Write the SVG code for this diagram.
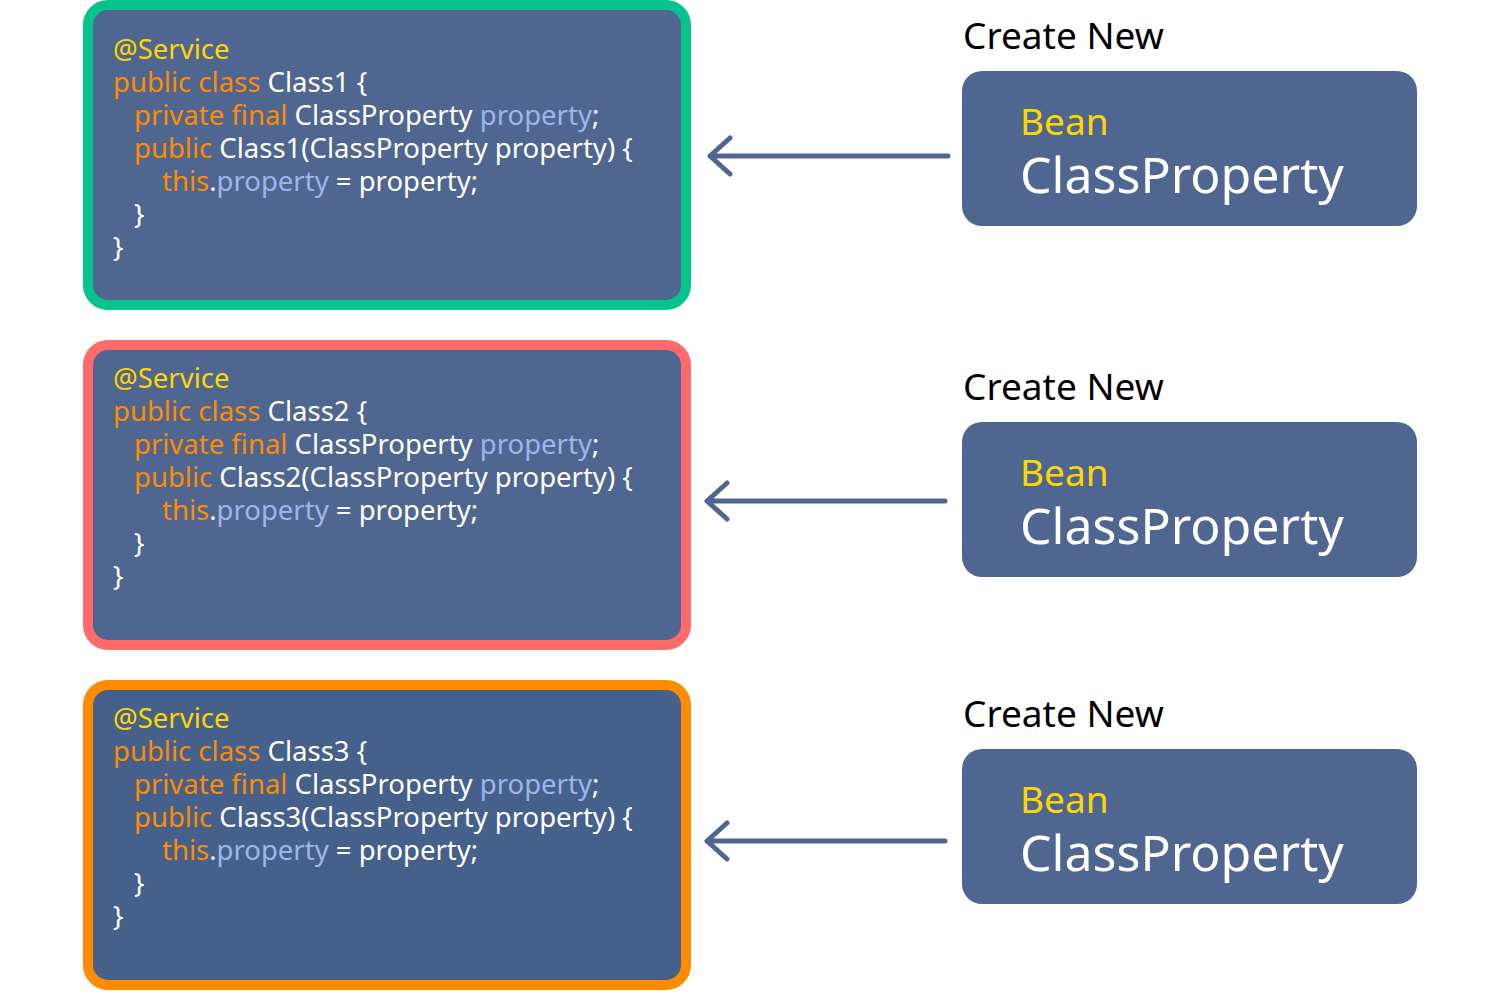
<svg xmlns="http://www.w3.org/2000/svg" width="1500" height="1000" viewBox="0 0 1500 1000">
<style>
text{font-family:"Noto Sans","Open Sans",sans-serif}
.code{font-size:27.5px;fill:#fff}
.k{fill:#ff8c00}.a{fill:#ffd700}.v{fill:#9db6ea}
.bean{fill:#4f6690}
.cn{font-size:37px;fill:#000}
.b{font-size:37px;fill:#ffd700}
.cp{font-size:50px;fill:#fff}
.arr{fill:none;stroke:#4f6690;stroke-width:5;stroke-linecap:round;stroke-linejoin:round}
</style>
<g id="class1">
<rect x="88" y="5" width="598" height="300" rx="20" fill="#4f6690" stroke="#08c38e" stroke-width="10"/>
<text class="code" x="113" y="59"><tspan class="a">@Service</tspan></text>
<text class="code" x="113" y="92"><tspan class="k">public class</tspan> Class1 {</text>
<text class="code" x="134" y="125"><tspan class="k">private final</tspan> ClassProperty <tspan class="v">property</tspan>;</text>
<text class="code" x="134" y="158"><tspan class="k">public</tspan> Class1(ClassProperty property) {</text>
<text class="code" x="162" y="191"><tspan class="k">this</tspan>.<tspan class="v">property</tspan> = property;</text>
<text class="code" x="134" y="224">}</text>
<text class="code" x="113" y="257">}</text>
</g>
<g id="class2">
<rect x="88" y="345" width="598" height="300" rx="20" fill="#4f6690" stroke="#ff6b6b" stroke-width="10"/>
<text class="code" x="113" y="388"><tspan class="a">@Service</tspan></text>
<text class="code" x="113" y="421"><tspan class="k">public class</tspan> Class2 {</text>
<text class="code" x="134" y="454"><tspan class="k">private final</tspan> ClassProperty <tspan class="v">property</tspan>;</text>
<text class="code" x="134" y="487"><tspan class="k">public</tspan> Class2(ClassProperty property) {</text>
<text class="code" x="162" y="520"><tspan class="k">this</tspan>.<tspan class="v">property</tspan> = property;</text>
<text class="code" x="134" y="553">}</text>
<text class="code" x="113" y="586">}</text>
</g>
<g id="class3">
<rect x="88" y="685" width="598" height="300" rx="20" fill="#46608c" stroke="#ff8c00" stroke-width="10"/>
<text class="code" x="113" y="728"><tspan class="a">@Service</tspan></text>
<text class="code" x="113" y="761"><tspan class="k">public class</tspan> Class3 {</text>
<text class="code" x="134" y="794"><tspan class="k">private final</tspan> ClassProperty <tspan class="v">property</tspan>;</text>
<text class="code" x="134" y="827"><tspan class="k">public</tspan> Class3(ClassProperty property) {</text>
<text class="code" x="162" y="860"><tspan class="k">this</tspan>.<tspan class="v">property</tspan> = property;</text>
<text class="code" x="134" y="893">}</text>
<text class="code" x="113" y="926">}</text>
</g>
<g id="bean1">
<text class="cn" x="963" y="49">Create New</text>
<rect class="bean" x="962" y="71" width="455" height="155" rx="20"/>
<text class="b" x="1020" y="135">Bean</text>
<text class="cp" x="1020" y="193">ClassProperty</text>
</g>
<g id="bean2">
<text class="cn" x="963" y="400">Create New</text>
<rect class="bean" x="962" y="422" width="455" height="155" rx="20"/>
<text class="b" x="1020" y="486">Bean</text>
<text class="cp" x="1020" y="544">ClassProperty</text>
</g>
<g id="bean3">
<text class="cn" x="963" y="727">Create New</text>
<rect class="bean" x="962" y="749" width="455" height="155" rx="20"/>
<text class="b" x="1020" y="813">Bean</text>
<text class="cp" x="1020" y="871">ClassProperty</text>
</g>
<g id="connectors">
<path class="arr" d="M948 156H710M730 138L710 156L730 174"/>
<path class="arr" d="M945 501H707M727 483L707 501L727 519"/>
<path class="arr" d="M945 841H707M727 823L707 841L727 859"/>
</g>
</svg>
